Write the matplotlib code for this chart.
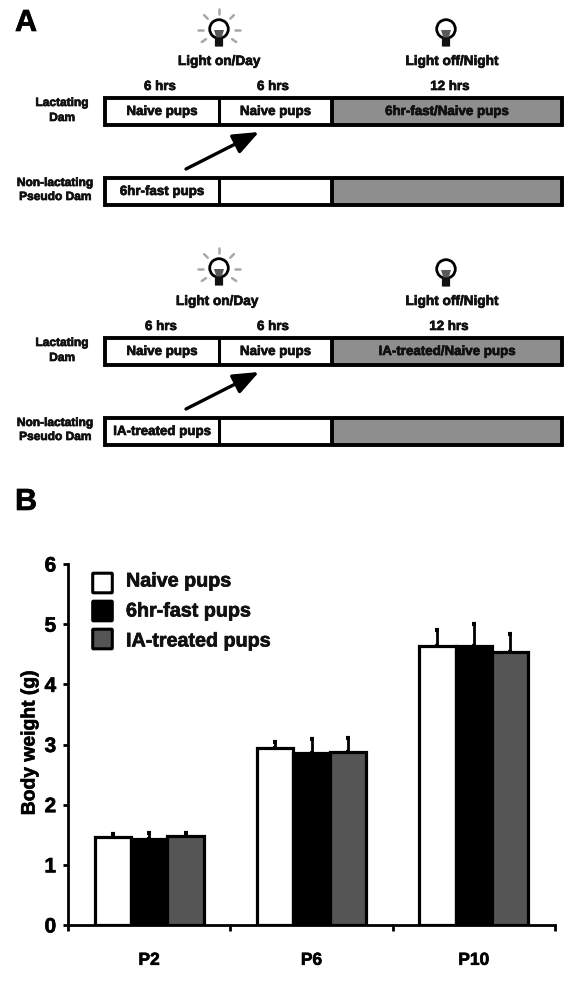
import matplotlib
matplotlib.use("Agg")
import matplotlib.pyplot as plt
from matplotlib.patches import Rectangle, Circle, Polygon, FancyArrowPatch, FancyBboxPatch
from matplotlib.text import Text
import matplotlib.patheffects as pe
import numpy as np

plt.rcParams['font.family'] = ['Liberation Sans', 'DejaVu Sans']
plt.rcParams['font.weight'] = 'bold'

# ---- data ----
groups = ["P2", "P6", "P10"]
series_names = ["Naive pups", "6hr-fast pups", "IA-treated pups"]
naive = [1.46, 2.94, 4.63]
fast = [1.43, 2.86, 4.63]
treated = [1.48, 2.87, 4.54]
naive_err = [0.05, 0.10, 0.27]
fast_err = [0.10, 0.23, 0.37]
treated_err = [0.05, 0.24, 0.30]
series_colors = ["white", "black", "#555555"]
yticks = [0, 1, 2, 3, 4, 5, 6]

W, H = 577, 981
fig = plt.figure(figsize=(W / 100, H / 100), dpi=100, facecolor="white")

# ---- panel B chart ----
ax = fig.add_axes([68 / W, (H - 925) / H, (555 - 68) / W, (925 - 564) / H])
ax.set_xlim(0, 3)
ax.set_ylim(0, 6)
centers = np.arange(len(groups)) + 0.5
bw = 0.224
for i, (vals, errs, col) in enumerate(zip([naive, fast, treated],
                                          [naive_err, fast_err, treated_err],
                                          series_colors)):
    xs = centers + (i - 1) * bw
    ax.errorbar(xs, vals, yerr=[[0] * 3, errs], fmt="none", ecolor="black",
                elinewidth=2.0, capsize=1.7, capthick=3.0, zorder=2 + i * 0.1, clip_on=False)
    ax.bar(xs, vals, width=bw, color=col, edgecolor="black", linewidth=2.3,
           zorder=3 + i * 0.1, label=series_names[i])
for s in ("top", "right"):
    ax.spines[s].set_visible(False)
for s in ("left", "bottom"):
    ax.spines[s].set_linewidth(2.0)
ax.spines["bottom"].set_zorder(6)
ax.set_yticks(yticks)
ax.set_yticklabels([str(v) for v in yticks], fontsize=15, fontweight="bold")
ax.tick_params(axis="y", length=3.5, width=2, pad=5)
ax.set_xticks([0, 1, 2, 3])
ax.set_xticklabels([])
ax.tick_params(axis="x", which="major", length=4.5, width=2)
ax.set_xticks(centers, minor=True)
ax.set_xticklabels(groups, minor=True, fontsize=12.5, fontweight="bold")
ax.tick_params(axis="x", which="minor", length=0, pad=20)

# ---- overlay in pixel coordinates ----
ov = fig.add_axes([0, 0, 1, 1], zorder=10)
ov.set_xlim(0, W)
ov.set_ylim(H, 0)
ov.axis("off")
ov.patch.set_alpha(0)


def txt(x, y, s, size=9.5, ha="center", **kw):
    ov.text(x, y, s, fontsize=size, fontweight="bold", ha=ha, va="center", color="#111111", **kw)


def row(top, labels, x0=105, x1=219, x2=332, x3=562, h=27):
    ov.add_patch(Rectangle((x0, top), x1 - x0, h, fc="white", ec="none"))
    ov.add_patch(Rectangle((x1, top), x2 - x1, h, fc="white", ec="none"))
    ov.add_patch(Rectangle((x2, top), x3 - x2, h, fc="#8e8e8e", ec="none"))
    ov.add_patch(Rectangle((x0, top), x3 - x0, h, fc="none", ec="black", lw=2.8))
    for xx, lw in ((x1, 2.2), (x2, 2.8)):
        ov.plot([xx, xx], [top, top + h], color="black", lw=lw, solid_capstyle="butt")
    for (a, b), s in zip(((x0, x1), (x1, x2), (x2, x3)), labels):
        if s:
            txt((a + b) / 2, top + h / 2 + 0.5, s, size=9.6)


def bulb(cx, cy, on):
    if on:
        for ang in np.deg2rad([-90, -45, -135, 0, 180, 35, 145]):
            r0, r1 = 16, 21
            ov.plot([cx + r0 * np.cos(ang), cx + r1 * np.cos(ang)],
                    [cy - 3 + r0 * np.sin(ang), cy - 3 + r1 * np.sin(ang)],
                    color="#a8a8a8", lw=1.8, solid_capstyle="round")
    ov.add_patch(Circle((cx, cy - 4), 9.3, fc="white", ec="black", lw=2.0))
    ov.add_patch(Polygon([[cx - 5, cy - 3], [cx + 5, cy - 3], [cx + 2.5, cy + 5], [cx - 2.5, cy + 5]],
                         fc="#5a5a5a", ec="none"))
    ov.add_patch(FancyBboxPatch((cx - 3.5, cy + 5), 7, 8, boxstyle="round,pad=0.6", fc="#111111", ec="none"))


def arrow(x0, y0, x1, y1):
    ov.add_patch(FancyArrowPatch((x0, y0), (x1, y1),
                                 arrowstyle="-|>,head_length=0.6,head_width=0.24", mutation_scale=26,
                                 lw=2.4, color="black", shrinkA=0, shrinkB=0))


# panel letters
ov.text(26, 23, "A", fontsize=22, fontweight="bold", ha="center", va="center", color="black")
ov.text(26, 502, "B", fontsize=22, fontweight="bold", ha="center", va="center", color="black")

# schedule 1
bulb(219, 33, True)
bulb(446, 33, False)
txt(219, 61, "Light on/Day", 9.8)
txt(452, 61, "Light off/Night", 9.8)
for x, s in ((160, "6 hrs"), (273, "6 hrs"), (450, "12 hrs")):
    txt(x, 87, s, 9.6)
row(98, ["Naive pups", "Naive pups", "6hr-fast/Naive pups"])
row(178, ["6hr-fast pups", "", ""])
txt(62, 103, "Lactating", 8.6)
txt(62, 118, "Dam", 8.6)
txt(55, 183, "Non-lactating", 8.6)
txt(55, 197, "Pseudo Dam", 8.6)
arrow(186, 169, 259, 132)

# schedule 2
bulb(219, 272, True)
bulb(446, 273, False)
txt(217, 301, "Light on/Day", 9.8)
txt(452, 301, "Light off/Night", 9.8)
for x, s in ((161, "6 hrs"), (273, "6 hrs"), (449, "12 hrs")):
    txt(x, 327, s, 9.6)
row(338, ["Naive pups", "Naive pups", "IA-treated/Naive pups"])
row(418, ["IA-treated pups", "", ""])
txt(62, 343, "Lactating", 8.6)
txt(62, 358, "Dam", 8.6)
txt(55, 423, "Non-lactating", 8.6)
txt(55, 437, "Pseudo Dam", 8.6)
arrow(186, 409, 259, 372)

# y label
ov.text(30, 743, "Body weight (g)", fontsize=13.9, fontweight="bold", rotation=90,
        ha="center", va="center", color="black")

# legend
for top, ty, name, col in zip((573, 601, 629), (581, 611, 641), series_names, series_colors):
    ov.add_patch(FancyBboxPatch((93.5, top + 1), 18, 18, boxstyle="round,pad=0.8", fc=col, ec="black", lw=2.2))
    ov.text(126, ty, name, fontsize=14.2, fontweight="bold", ha="left", va="center", color="#111111")

# heavier strokes, as in the reference's thick lettering
for t in fig.findobj(Text):
    if t.get_text():
        t.set_path_effects([pe.withStroke(linewidth=0.5, foreground="#111111")])

fig.savefig("out.png", dpi=100)
